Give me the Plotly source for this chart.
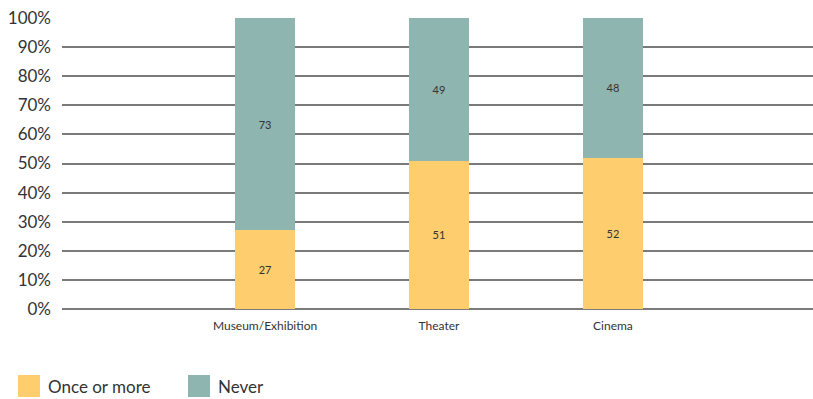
import plotly.graph_objects as go

categories = ["Museum/Exhibition", "Theater", "Cinema"]
once_or_more = [27, 51, 52]
never = [73, 49, 48]
y_ticks = [0, 10, 20, 30, 40, 50, 60, 70, 80, 90, 100]
y_tick_labels = [f"{v}%" for v in y_ticks]
series_names = ["Once or more", "Never"]
colors = ["#FDCD6E", "#8FB5B0"]

FONT = "Lato, 'Open Sans', sans-serif"

fig = go.Figure()
for name, vals, col in zip(series_names, [once_or_more, never], colors):
    fig.add_trace(go.Bar(
        x=categories, y=vals, name=name, marker_color=col, marker_line_width=0,
        width=0.35, text=[str(v) for v in vals], textposition="inside",
        insidetextanchor="middle", textangle=0,
        textfont=dict(family=FONT, size=11, color="#333333"),
        showlegend=False, hoverinfo="skip",
    ))

fig.update_layout(
    barmode="stack",
    width=813, height=399,
    margin=dict(l=62, r=0, t=18, b=90),
    plot_bgcolor="white", paper_bgcolor="white",
    font=dict(family=FONT, color="#333333"),
    uniformtext=dict(minsize=8, mode="show"),
)
fig.update_xaxes(
    range=[-1.167, 3.15], showgrid=False, zeroline=False, showline=False,
    ticks="", tickfont=dict(family=FONT, size=12, color="#333333"),
    ticklabelstandoff=8,
)
fig.update_yaxes(
    range=[0, 100], tickvals=y_ticks, ticktext=y_tick_labels,
    showgrid=True, gridcolor="#7a7a7a", gridwidth=1.5,
    zeroline=True, zerolinecolor="#7a7a7a", zerolinewidth=1.5,
    showline=False, ticks="", ticklabelstandoff=10,
    tickfont=dict(family=FONT, size=17, color="#333333"),
)

# Manual legend (large square swatches)
leg_x = [18, 188]
for name, col, lx in zip(series_names, colors, leg_x):
    fig.add_shape(type="rect", xref="paper", yref="paper",
                  x0=(lx - 62) / 751, x1=(lx + 22 - 62) / 751,
                  y0=(309 - 397) / 291, y1=(309 - 375) / 291,
                  fillcolor=col, line_width=0, layer="above")
    fig.add_annotation(xref="paper", yref="paper",
                       x=(lx + 28 - 62) / 751, y=(309 - 386) / 291,
                       text=name, showarrow=False, xanchor="left", yanchor="middle",
                       font=dict(family=FONT, size=17, color="#333333"))

fig.write_html(
    "out.html",
    config={"displayModeBar": False},
    post_script="document.body.style.margin='0';document.body.style.overflow='hidden';",
)
